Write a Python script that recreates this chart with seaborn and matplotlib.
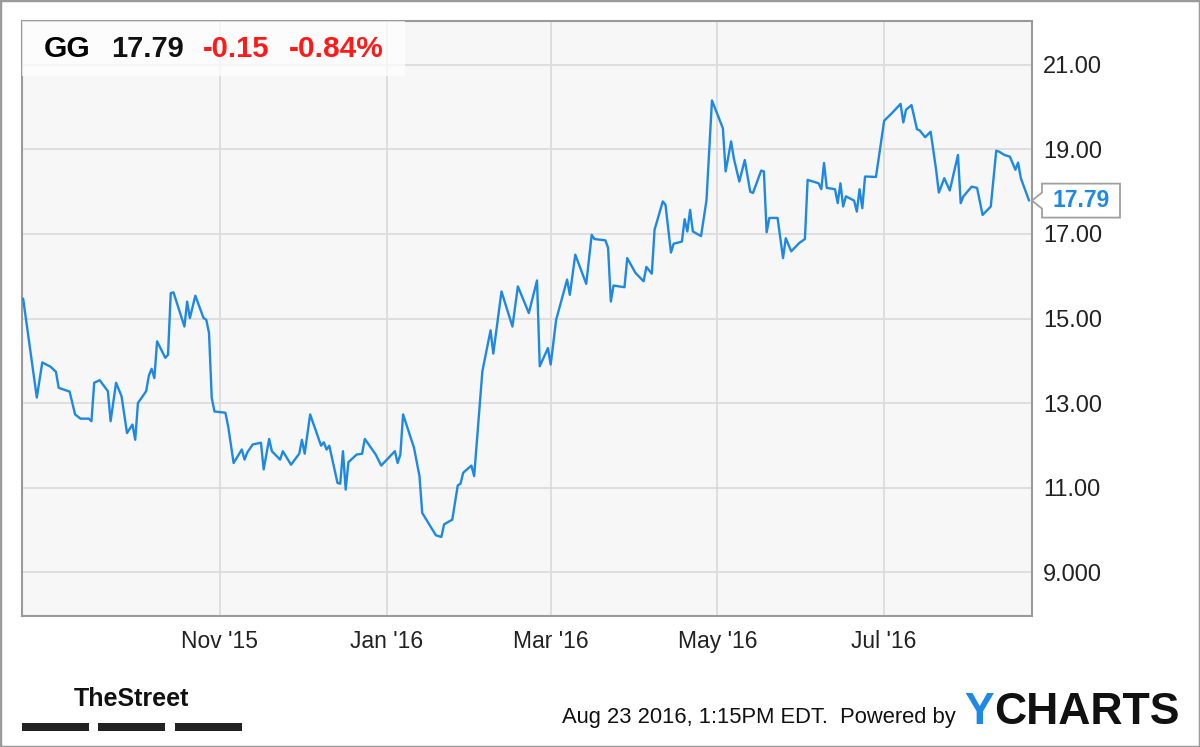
import pandas as pd
import matplotlib
matplotlib.use("Agg")
import matplotlib.pyplot as plt
import matplotlib.dates as mdates
from matplotlib.patches import Polygon, Rectangle
import seaborn as sns

# GG closing prices (days counted from 2015-08-21)
start = pd.Timestamp("2015-08-21")
days = [0, 5, 7, 10, 12, 13, 17, 19, 21, 24,
        25, 26, 28, 31, 32, 34, 36, 38, 40, 41,
        42, 45, 46, 47, 48, 49, 52, 53, 54, 55,
        59, 60, 61, 63, 66, 67, 68, 69, 70, 74,
        75, 77, 80, 81, 82, 84, 87, 88, 90, 91,
        94, 95, 98, 101, 102, 103, 105, 109, 110, 111,
        112, 115, 116, 117, 118, 119, 122, 124, 125, 129,
        131, 136, 137, 138, 139, 143, 145, 146, 151, 153,
        154, 157, 159, 160, 161, 164, 165, 168, 171, 172,
        175, 179, 181, 185, 188, 189, 192, 193, 195, 199,
        200, 202, 206, 208, 209, 213, 214, 215, 216, 220,
        221, 224, 227, 228, 230, 231, 234, 235, 237, 238,
        241, 242, 243, 244, 245, 248, 250, 252, 256, 257,
        259, 260, 262, 264, 266, 267, 270, 271, 272, 273,
        276, 278, 279, 281, 284, 286, 287, 291, 292, 293,
        294, 297, 298, 299, 300, 301, 304, 305, 306, 307,
        308, 312, 315, 318, 321, 322, 323, 325, 327, 328,
        330, 332, 334, 335, 337, 339, 342, 343, 344, 347,
        349, 351, 354, 356, 357, 359, 361, 363, 364, 365,
        368]
prices = [15.47, 13.13, 13.96, 13.86, 13.74, 13.36, 13.27, 12.73, 12.63, 12.63,
          12.57, 13.48, 13.54, 13.28, 12.57, 13.48, 13.16, 12.29, 12.49, 12.13,
          13.00, 13.28, 13.65, 13.81, 13.59, 14.46, 14.07, 14.14, 15.60, 15.62,
          14.81, 15.40, 15.01, 15.54, 15.01, 14.97, 14.66, 13.12, 12.80, 12.77,
          12.45, 11.58, 11.90, 11.66, 11.83, 12.02, 12.06, 11.43, 12.15, 11.86,
          11.66, 11.86, 11.54, 11.80, 12.13, 11.80, 12.73, 11.99, 12.07, 11.90,
          11.99, 11.11, 11.09, 11.86, 10.95, 11.60, 11.78, 11.80, 12.15, 11.78,
          11.52, 11.86, 11.58, 11.78, 12.73, 11.94, 11.27, 10.40, 9.87, 9.83,
          10.13, 10.24, 11.05, 11.09, 11.35, 11.52, 11.27, 13.75, 14.72, 14.17,
          15.64, 14.81, 15.76, 15.13, 15.90, 13.87, 14.30, 13.91, 14.97, 15.92,
          15.56, 16.51, 15.82, 16.98, 16.88, 16.85, 16.67, 15.40, 15.78, 15.74,
          16.43, 16.08, 15.88, 16.22, 16.06, 17.10, 17.77, 17.69, 16.56, 16.77,
          16.82, 17.35, 17.06, 17.57, 17.06, 16.95, 17.80, 20.16, 19.50, 18.48,
          19.19, 18.79, 18.24, 18.75, 18.00, 17.97, 18.50, 18.48, 17.04, 17.38,
          17.38, 16.43, 16.90, 16.59, 16.79, 16.88, 18.28, 18.20, 18.06, 18.68,
          18.09, 18.06, 17.73, 18.20, 17.65, 17.89, 17.79, 17.53, 18.06, 17.61,
          18.36, 18.35, 19.68, 19.87, 20.08, 19.64, 19.94, 20.05, 19.48, 19.45,
          19.29, 19.42, 18.52, 17.98, 18.32, 18.03, 18.87, 17.73, 17.89, 18.12,
          18.09, 17.45, 17.65, 18.97, 18.95, 18.87, 18.83, 18.52, 18.69, 18.32,
          17.79]

tick_dates = ["2015-11-01", "2016-01-01", "2016-03-01", "2016-05-01", "2016-07-01"]
tick_labels = ["Nov '15", "Jan '16", "Mar '16", "May '16", "Jul '16"]
y_ticks = [9, 11, 13, 15, 17, 19, 21]
y_labels = ["9.000", "11.00", "13.00", "15.00", "17.00", "19.00", "21.00"]

ticker = "GG"
last_price = "17.79"
change = "-0.15"
change_pct = "-0.84%"
stamp = "Aug 23 2016, 1:15PM EDT.  Powered by"

BLUE = "#1e88e5"
W, H = 1200, 747

df = pd.DataFrame({"date": start + pd.to_timedelta(days, unit="D"), "price": prices})

sns.set_style("whitegrid")
plt.rcParams["font.family"] = ["Liberation Sans", "DejaVu Sans"]


def px(x, y):
    # pixel position (from top-left) -> figure fraction
    return x / W, 1 - y / H


fig = plt.figure(figsize=(W / 100, H / 100), dpi=100)
fig.patch.set_facecolor("white")
ax = fig.add_axes([22 / W, 1 - 616 / H, 1010 / W, 595 / H])
ax.set_facecolor("#f7f7f7")

sns.lineplot(data=df, x="date", y="price", ax=ax, color=BLUE, linewidth=1.7,
             estimator=None, sort=False, zorder=3)

ax.set_xlim(start - pd.Timedelta(hours=10), pd.Timestamp("2016-08-24 02:00"))
ax.set_ylim(7.96, 22.04)
ax.set_xticks(pd.to_datetime(tick_dates))
ax.set_xticklabels(tick_labels)
ax.set_yticks(y_ticks)
ax.set_yticklabels(y_labels)
ax.yaxis.tick_right()
ax.set_xlabel("")
ax.set_ylabel("")
ax.grid(True, color="#dcdcdc", linewidth=1.3)
ax.tick_params(axis="x", length=0, pad=10, labelsize=16.5, labelcolor="#222222")
ax.tick_params(axis="y", length=0, pad=8, labelsize=17, labelcolor="#222222")
for s in ax.spines.values():
    s.set_visible(True)
    s.set_color("#9a9a9a")
    s.set_linewidth(1.5)

# header box
ax.add_patch(Rectangle((0, 0.908), 0.379, 0.092, transform=ax.transAxes,
                       facecolor="white", alpha=0.7, edgecolor="none", zorder=4))
hy = 49
fig.text(*px(44, hy), ticker, fontsize=21.5, fontweight="bold", color="black", va="center")
fig.text(*px(111, hy), last_price, fontsize=21, fontweight="bold", color="#111111", va="center")
fig.text(*px(203, hy), change, fontsize=21, fontweight="bold", color="#ff1a1a", va="center")
fig.text(*px(289, hy), change_pct, fontsize=21.5, fontweight="bold", color="#ff1a1a", va="center")

# last price tag
ly = ax.transData.transform((mdates.date2num(df["date"].iloc[-1]), prices[-1]))[1]
ax_right = ax.transAxes.transform((1, 0))[0]
tag = Polygon([(ax_right, ly), (ax_right + 10, ly + 8), (ax_right + 10, ly + 17),
               (ax_right + 88, ly + 17), (ax_right + 88, ly - 17),
               (ax_right + 10, ly - 17), (ax_right + 10, ly - 8)],
              closed=True, transform=None, facecolor="white", edgecolor="#a0a0a0",
              linewidth=1.3, zorder=5)
fig.add_artist(tag)
fig.text((ax_right + 49) / W, ly / H, last_price, fontsize=16.5, fontweight="bold",
         color=BLUE, ha="center", va="center", zorder=6)

# footer
fig.text(*px(74, 699), "TheStreet", fontsize=18, fontweight="bold",
         color="#111111", va="center")
for x0 in (22, 98, 175):
    fig.add_artist(Rectangle(px(x0, 731), 67 / W, 8 / H, transform=fig.transFigure,
                             facecolor="#222222", edgecolor="none"))
fig.text(*px(562, 717), stamp, fontsize=15.8, color="#111111", va="center")
ty = fig.text(*px(964, 712), "Y", fontsize=32, fontweight="bold", color=BLUE, va="center")
fig.canvas.draw()
ext = ty.get_window_extent()
fig.text(ext.x1 / W, 1 - 712 / H, "CHARTS", fontsize=32, fontweight="bold",
         color="#111111", va="center")

# outer frame
fig.add_artist(Rectangle((0, 0), 1, 1, transform=fig.transFigure, fill=False,
                         edgecolor="#9a9a9a", linewidth=2.5))

fig.savefig("out.png", dpi=100)
